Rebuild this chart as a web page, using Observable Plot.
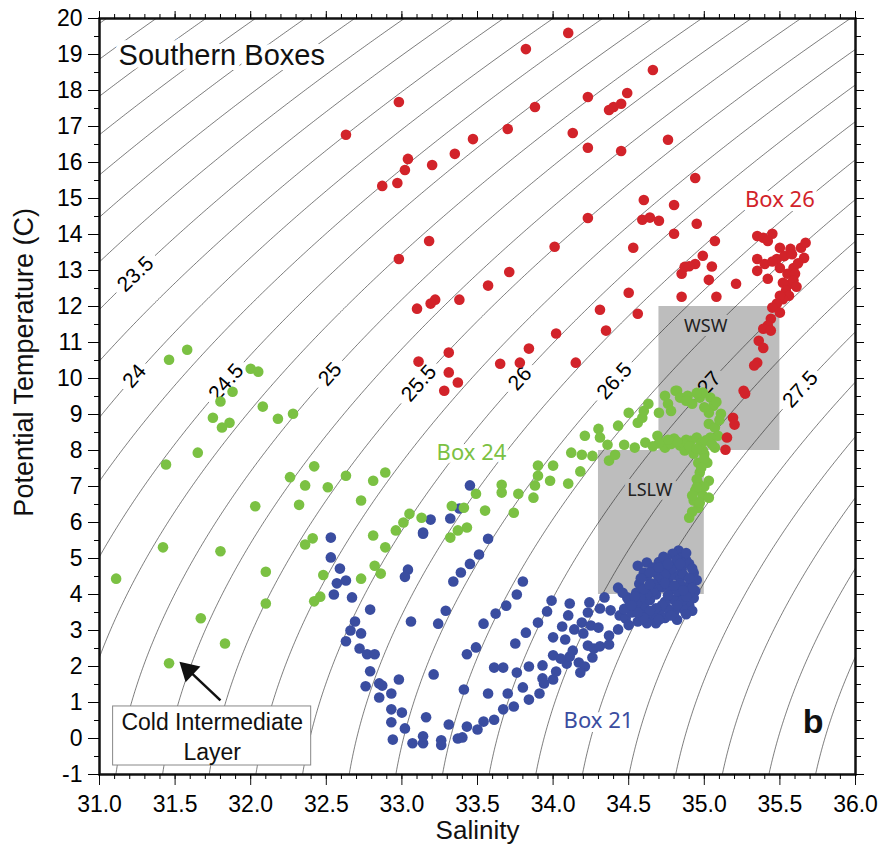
<!DOCTYPE html>
<html><head><meta charset="utf-8">
<script src="https://cdn.jsdelivr.net/npm/d3@7"></script>
<script src="https://cdn.jsdelivr.net/npm/@observablehq/plot@0.6"></script>
<style>body{margin:0;background:#fff}</style>
</head><body><div id="chart"></div>
<script>
// ---------- data (salinity, potential temperature) ----------
const box26 = [[34.10,19.6],[33.82,19.15],[34.66,18.57],[32.98,17.68],[33.88,17.54],[34.23,17.82],[34.49,17.93],[34.37,17.46],[34.40,17.54],[34.45,17.63],[32.63,16.77],[33.04,16.10],[33.02,15.79],[33.20,15.93],[33.35,16.24],[33.47,16.65],[33.70,16.93],[34.13,16.82],[34.23,16.41],[34.45,16.32],[34.76,16.63],[32.87,15.35],[32.97,15.43],[33.18,13.82],[32.98,13.32],[34.23,14.46],[34.01,13.66],[33.71,12.96],[33.57,12.58],[33.38,12.19],[33.22,12.19],[33.19,12.08],[33.10,11.94],[34.94,15.57],[34.60,14.96],[34.80,14.82],[34.59,14.41],[34.64,14.47],[34.70,14.38],[34.95,14.30],[34.80,14.02],[34.53,13.63],[35.07,13.82],[34.99,13.41],[34.94,13.18],[34.87,13.10],[34.90,13.12],[34.85,12.91],[35.05,13.11],[35.03,12.74],[35.21,12.63],[34.50,12.38],[34.85,12.27],[35.08,12.27],[34.31,11.91],[34.56,11.80],[34.35,11.33],[34.02,11.25],[33.84,10.83],[33.31,10.72],[33.11,10.47],[33.31,10.17],[33.37,9.89],[33.28,9.66],[33.65,10.41],[33.78,10.44],[34.15,10.44],
[35.35,13.96],[35.39,13.91],[35.45,14.02],[35.42,13.82],[35.50,13.63],[35.57,13.60],[35.64,13.63],[35.67,13.77],[35.66,13.35],[35.35,13.32],[35.40,13.18],[35.35,12.99],[35.48,13.32],[35.50,13.07],[35.55,12.91],[35.59,13.07],[35.60,12.91],[35.57,12.63],[35.52,12.66],[35.54,12.44],[35.59,12.72],[35.42,12.77],[35.62,13.2],[35.53,13.4],[35.45,13.25],[35.58,13.45],[35.61,12.55],[35.56,12.3],[35.52,12.2],
[35.50,12.30],[35.48,12.08],[35.45,11.97],[35.50,11.83],[35.44,11.66],[35.42,11.47],[35.39,11.38],[35.44,11.33],[35.36,11.05],[35.39,10.85],[35.35,10.44],[35.33,10.36],[35.26,9.66],[35.27,9.58],[35.19,8.91],[35.20,8.72],[35.15,8.36],[35.14,8.02]];

const box24 = [[31.46,10.52],[31.58,10.80],[32.00,10.27],[32.05,10.19],[31.88,9.63],[31.80,9.36],[31.75,8.91],[31.86,8.77],[31.81,8.64],[32.08,9.22],[32.18,8.88],[32.28,9.02],[31.65,7.94],[31.44,7.61],[32.26,7.26],[32.42,7.56],[32.36,7.03],[32.51,6.98],[32.63,7.30],[32.03,6.45],[32.32,6.49],[32.73,6.61],[32.81,7.16],[32.89,7.39],[32.41,5.56],[32.36,5.39],[32.81,5.64],[32.89,5.31],[32.96,5.78],[31.42,5.31],[31.80,5.20],[31.11,4.44],[31.67,3.34],[31.83,2.64],[31.46,2.09],[32.10,4.63],[32.10,3.75],[32.48,4.54],[32.42,3.81],[32.46,3.94],[32.73,4.44],[32.82,4.80],[32.86,4.58],
[33.05,6.24],[33.01,6.0],[33.13,6.13],[33.33,6.46],[33.41,6.41],[33.43,5.86],[33.37,5.78],[33.32,5.58],[33.49,6.8],[33.55,6.33],[33.66,7.05],[33.66,6.83],[33.77,6.8],[33.74,6.27],[33.87,6.69],[33.90,7.58],[33.90,7.30],[33.88,7.03],[34.00,7.58],[33.98,7.16],[34.10,7.08],[34.12,7.94],[34.18,7.42],[34.19,7.88],[34.21,8.41],[34.26,7.85],[34.30,8.60],[34.31,8.36],[34.37,7.72],[34.36,8.16],[34.43,8.69],[34.41,7.88],[34.47,8.16],[34.50,9.05],[34.56,8.77],[34.59,8.91],[34.60,9.1],[34.63,9.3],[34.54,8.08],[34.61,8.22],[34.69,8.41],[34.74,8.22],[34.80,8.33],[34.74,9.52],[34.81,9.66],[34.76,9.30],[34.78,9.1],
[34.82,9.66],[34.84,9.47],[34.89,9.52],[34.92,9.30],[34.97,9.47],[34.99,9.61],[35.04,9.47],[35.06,9.24],[35.03,9.05],[35.11,9.02],[35.03,8.74],[35.07,8.64],[35.09,8.41],[35.04,8.36],[35.07,8.08],[34.99,8.00],[34.74,8.08],[34.84,8.14],[34.91,8.27],[34.95,8.36],[34.87,8.0],[34.93,7.91],[34.96,7.66],[35.02,7.66],[34.97,7.39],[35.03,7.16],[34.96,7.08],[34.94,6.89],[34.99,6.75],[34.93,6.61],[35.03,6.69],[34.96,6.41],[34.90,6.13],[34.88,8.3],[34.98,8.2],[35.0,7.9],[34.95,7.2],[35.0,7.0],[34.92,6.3],[34.97,6.55],[34.86,8.22],[34.78,8.18],
[34.82,8.25],[34.90,8.12],[34.95,8.05],[35.01,8.28],[35.05,8.18],[34.76,8.30],[34.70,8.20],[34.66,8.12],[35.00,7.78],[34.98,7.52],[34.95,6.98],[34.92,6.75],[34.88,9.38],[34.95,9.60],[35.08,9.35],[35.10,8.85],[35.00,9.20],[34.70,9.05]];

const box21 = [[32.53,5.58],[32.53,5.03],[32.59,4.72],[32.57,4.31],[32.63,4.39],[32.55,4.00],[32.67,3.92],[32.79,3.58],[32.69,3.25],[32.66,3.00],[32.73,2.92],[32.63,2.70],[32.72,2.50],[32.77,2.34],[32.82,2.34],[32.79,1.87],[32.85,1.53],[32.76,1.45],[32.85,1.14],[32.93,1.25],[32.93,0.81],[32.93,0.45],[32.94,-0.03],
[33.14,5.69],[33.57,5.55],[33.51,5.11],[33.45,4.85],[33.39,4.61],[33.34,4.36],[33.04,4.69],[33.02,4.49],[33.80,4.36],[33.76,4.00],[33.69,3.69],[33.62,3.47],[33.54,3.19],[33.29,3.55],[33.24,3.19],[33.06,3.25],[33.49,2.53],[33.43,2.34],[33.21,1.78],[32.98,1.64],[33.41,1.36],[33.57,1.25],[33.70,1.25],[33.61,1.97],[33.67,1.97],[33.76,1.83],[33.75,2.64],[33.82,2.94],[33.90,3.22],[33.96,3.53],[33.99,3.83],[33.84,2.00],[33.93,2.03],[33.93,1.67],[33.80,1.42],[33.84,1.08],[33.91,1.25],[33.94,1.53],[34.00,1.64],[34.02,1.86],[34.09,2.08],[34.11,2.28],[34.13,2.44],[34.17,2.11],[34.21,2.00],[34.00,2.31],[34.05,2.22],[34.00,2.81],[34.06,3.11],[34.08,2.75],[34.14,3.03],[34.10,3.42],[34.11,3.75],[34.19,3.22],[34.20,2.92],[34.23,3.50],[34.25,3.14],[34.23,2.58],[34.27,2.50],[34.26,2.25],[34.18,1.83],[34.24,3.78],[34.31,3.61],[34.31,2.56],[34.30,3.08],[34.34,3.92],[34.43,4.19],[34.44,3.42],[34.38,3.56],[34.37,2.86],[34.37,2.61],[34.43,3.03],[34.48,3.33],[34.53,3.64],[34.49,3.92],[34.56,4.80],[34.62,4.89],[34.55,4.05],
[33.45,7.03],[33.38,6.39],[33.19,6.08],[33.32,6.11],[33.14,5.72],
[33.00,0.72],[33.02,0.28],[33.07,-0.13],[33.14,-0.13],[33.14,0.06],[33.16,0.59],[33.26,-0.05],[33.26,-0.18],[33.31,0.39],[33.37,0.00],[33.40,0.03],[33.43,0.33],[33.50,0.25],[33.54,0.47],[33.61,0.52],[33.67,0.81],[33.74,0.89],[32.87,1.47],
[34.83,5.22],[34.79,5.13],[34.86,5.05],[34.88,4.95],[34.75,4.98],[34.70,4.9],[34.66,4.75],[34.72,4.65],[34.80,4.8],[34.85,4.7],[34.90,4.85],[34.93,4.6],[34.95,4.4],[34.91,4.3],[34.94,4.1],[34.93,3.9],[34.90,3.7],[34.86,3.6],[34.80,3.5],[34.76,3.6],[34.70,3.5],[34.66,3.4],[34.62,3.45],[34.58,3.55],[34.60,3.7],[34.64,3.85],[34.68,4.0],[34.72,4.2],[34.76,4.4],[34.80,4.55],[34.84,4.45],[34.88,4.2],[34.84,4.0],[34.80,3.85],[34.74,3.8],[34.70,4.25],[34.66,4.1],[34.62,4.0],[34.58,3.9],[34.55,3.75],[34.52,3.5],[34.57,4.3],[34.62,4.5],[34.68,4.6],[34.78,4.15],[34.86,3.85],[34.90,4.05],[34.92,3.55],[34.82,3.3],[34.74,3.35],[34.68,3.2],[34.62,3.2],[34.56,3.25],[34.50,3.15],[34.47,3.6],[34.50,3.85],[34.46,4.05],[34.60,4.6],[34.73,5.05],[34.88,5.15],
[34.82,4.95],[34.78,4.70],[34.74,4.55],[34.70,4.42],[34.66,4.30],[34.64,4.62],[34.86,4.55],[34.90,4.45],[34.92,4.18],[34.88,3.95],[34.82,4.10],[34.76,3.98],[34.72,3.70],[34.68,3.62],[34.64,3.55],[34.60,3.35],[34.56,3.50],[34.54,3.95],[34.60,4.15],[34.64,4.28],[34.74,4.32],[34.84,4.30],[34.82,3.70],[34.88,3.45],[34.78,3.42],[34.70,3.30],[34.52,3.70],[34.58,4.45],[34.70,4.75],[34.76,4.85],[34.84,4.85],[34.92,4.72],[34.80,4.25],[34.86,4.12]];

// isopycnal levels (sigma-theta) and labelled ones
const isoLevels = d3.range(21.75, 28.76, 0.25);
const isoLabels = ["23.5","24","24.5","25","25.5","26","26.5","27","27.5"];
const isoLabelT = [12.9, 10.07, 9.9, 10.12, 9.87, 10.0, 9.93, 9.87, 9.7];

// water mass boxes
const massBoxes = [
  {name:"WSW", S1:34.7, S2:35.5, T1:8, T2:12, labS:35.01, labT:11.46},
  {name:"LSLW", S1:34.3, S2:35.0, T1:4, T2:8, labS:34.64, labT:6.89}
];
// box labels
const boxLabels = [
  {text:"Box 26", S:35.50, T:14.96, color:"#d2232a"},
  {text:"Box 24", S:33.46, T:7.94, color:"#7bc143"},
  {text:"Box 21", S:34.30, T:0.50, color:"#3a4da0"}
];
const xMajor = d3.range(31, 36.001, 0.5);
const xMinor = d3.range(31, 36.001, 0.1);
const yMajor = d3.range(-1, 20.001, 1);
const yMinor = d3.range(-1, 20.001, 0.5);

// ---------- UNESCO 1980 sigma-theta at p = 0 ----------
function sigmaTheta(S, T) {
  const rw = 999.842594 + 6.793952e-2*T - 9.095290e-3*T*T + 1.001685e-4*T**3 - 1.120083e-6*T**4 + 6.536332e-9*T**5;
  const A = 8.24493e-1 - 4.0899e-3*T + 7.6438e-5*T*T - 8.2467e-7*T**3 + 5.3875e-9*T**4;
  const B = -5.72466e-3 + 1.0227e-4*T - 1.6546e-6*T*T;
  return rw + A*S + B*Math.pow(S,1.5) + 4.8314e-4*S*S - 1000;
}
function solveS(level, T) {
  let lo = 20, hi = 45;
  for (let i = 0; i < 60; i++) { const m = (lo+hi)/2; if (sigmaTheta(m,T) < level) lo = m; else hi = m; }
  return (lo+hi)/2;
}

const W = 882, H = 851, mL = 99, mR = 27, mT = 18, mB = 77;
const kx = (W - mL - mR) / 5, ky = (H - mT - mB) / 21;
const fsIso = 21;

// label positions and angles
const isoLabelData = isoLabels.map((t, i) => {
  const lev = +t, T = isoLabelT[i], S = solveS(lev, T);
  const e = 1e-3;
  const sS = (sigmaTheta(S+e,T) - sigmaTheta(S-e,T))/(2*e);
  const sT = (sigmaTheta(S,T+e) - sigmaTheta(S,T-e))/(2*e);
  const px = -sT * kx, py = -(sS) * ky;
  const ang = Math.atan2(py, px) * 180 / Math.PI;
  const nd = t.replace(".","").length, nDot = t.includes(".") ? 1 : 0;
  const half = (nd*0.556 + nDot*0.278) * fsIso / 2 + 5;
  return {text: t, lev, S, T, rotate: ang, half};
});

const isoData = [];
for (const lev of isoLevels) {
  const lab = isoLabelData.find(d => Math.abs(d.lev - lev) < 1e-6);
  for (let T = -1.5; T <= 20.5; T += 0.04) {
    let S = solveS(lev, T);
    if (S < 30.3 || S > 36.7) continue;
    if (lab) {
      const dx = (S - lab.S) * kx, dy = (T - lab.T) * ky;
      if (Math.hypot(dx, dy) < lab.half) S = NaN;
    }
    isoData.push({lev, S, T});
  }
}

const dots = [
  ...box21.map(([S,T]) => ({S, T, c:"#3a4da0"})),
  ...box24.map(([S,T]) => ({S, T, c:"#7bc143"})),
  ...box26.map(([S,T]) => ({S, T, c:"#d2232a"}))
];

// callout
const callout = {S1:31.09, S2:32.40, T1:-0.75, T2:0.89};
const calloutText = [{text:"Cold Intermediate", S:31.745, T:0.45}, {text:"Layer", S:31.745, T:-0.38}];
const arrowTail = [31.80, 1.06], arrowTip = [31.55, 2.05];
const dirX = (arrowTip[0]-arrowTail[0])*kx, dirY = -(arrowTip[1]-arrowTail[1])*ky;
const dl = Math.hypot(dirX, dirY);
const ux = dirX/dl, uy = dirY/dl;
const headBack = 9;
const headS = arrowTip[0] - ux*headBack/kx, headT = arrowTip[1] + uy*headBack/ky;
const arrowAng = Math.atan2(ux, -uy) * 180/Math.PI;

const font = "'Liberation Sans', Arial, Helvetica, sans-serif";
const mfont = "'Noto Sans', 'Open Sans', sans-serif";

const chart = Plot.plot({
  width: W, height: H,
  marginLeft: mL, marginRight: mR, marginTop: mT, marginBottom: mB,
  x: {domain: [31, 36], label: null},
  y: {domain: [-1, 20], label: null},
  style: {fontFamily: font, background: "white", color: "black"},
  marks: [
    Plot.rect(massBoxes, {x1:"S1", x2:"S2", y1:"T1", y2:"T2", fill:"#bdbdbd"}),
    Plot.line(isoData, {x:"S", y:"T", z:"lev", stroke:"#222", strokeWidth:0.6, clip:true}),
    Plot.text(isoLabelData, {x:"S", y:"T", text:"text", rotate:"rotate", fontSize:fsIso, fill:"black", fontFamily:font}),
    Plot.text(massBoxes, {x:"labS", y:"labT", text:"name", fontSize:18, fill:"#222", fontFamily:mfont, stroke:"#bdbdbd", strokeWidth:8, paintOrder:"stroke"}),
    Plot.text(boxLabels, {x:"S", y:"T", text:"text", fill:d=>d.color, fontSize:22, fontFamily:mfont, stroke:"white", strokeWidth:8, paintOrder:"stroke"}),
    Plot.text(["Southern Boxes"], {x:[31.126], y:[18.96], text:d=>d, textAnchor:"start", fontSize:29, fill:"#111", stroke:"white", strokeWidth:10, paintOrder:"stroke"}),
    Plot.text(["b"], {x:[35.72], y:[0.45], text:d=>d, fontSize:34, fontWeight:"bold", fill:"#111", stroke:"white", strokeWidth:8, paintOrder:"stroke"}),
    Plot.dot(dots, {x:"S", y:"T", fill:"c", r:5.3, stroke:null}),
    Plot.rect([callout], {x1:"S1", x2:"S2", y1:"T1", y2:"T2", fill:"white", stroke:"#888", strokeWidth:1}),
    Plot.text(calloutText, {x:"S", y:"T", text:"text", fontSize:23, fill:"#111"}),
    Plot.link([0], {x1:[arrowTail[0]], y1:[arrowTail[1]], x2:[headS], y2:[headT], stroke:"#111", strokeWidth:2.5}),
    Plot.dot([0], {x:[headS + ux*1/kx], y:[headT - uy*1/ky], symbol:"triangle", r:8, fill:"#111", rotate:arrowAng}),
    Plot.frame({stroke:"#111", strokeWidth:2.5}),
    Plot.axisX({anchor:"bottom", ticks:xMajor, tickSize:11, tickPadding:10, tickFormat:d=>d.toFixed(1), fontSize:23, label:null, stroke:"#111"}),
    Plot.axisX({anchor:"bottom", ticks:xMinor, tickSize:5, tickFormat:()=>"", label:null}),
    Plot.axisX({anchor:"top", ticks:xMajor, tickSize:8, tickFormat:()=>"", label:null}),
    Plot.axisX({anchor:"top", ticks:xMinor, tickSize:5, tickFormat:()=>"", label:null}),
    Plot.axisY({anchor:"left", ticks:yMajor, tickSize:11, tickPadding:6, tickFormat:d=>String(d), fontSize:23, label:null}),
    Plot.axisY({anchor:"left", ticks:yMinor, tickSize:5, tickFormat:()=>"", label:null}),
    Plot.axisY({anchor:"right", ticks:yMajor, tickSize:8, tickFormat:()=>"", label:null}),
    Plot.axisY({anchor:"right", ticks:yMinor, tickSize:5, tickFormat:()=>"", label:null}),
    Plot.text(["Salinity"], {frameAnchor:"bottom", dy:64, text:d=>d, fontSize:26, fill:"#111"}),
    Plot.text(["Potential Temperature (C)"], {x:[30.50], y:[10.45], text:d=>d, rotate:-90, fontSize:27, fill:"#111"})
  ]
});
document.getElementById("chart").appendChild(chart);
</script></body></html>
